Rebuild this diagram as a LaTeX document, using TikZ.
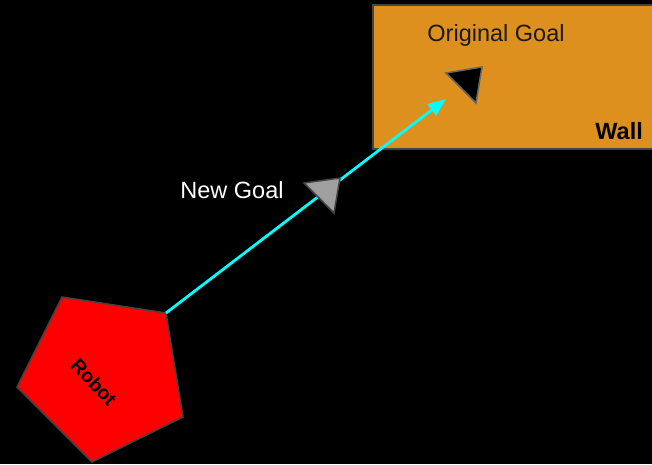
\documentclass[tikz,border=0pt]{standalone}
\usepackage{fontspec}
\setmainfont{Liberation Sans}
\usetikzlibrary{arrows.meta}
\definecolor{wallc}{HTML}{DE901E}
\definecolor{edgec}{HTML}{444444}
\definecolor{linec}{RGB}{0,255,255}
\tikzset{
  shapeedge/.style={draw=edgec, line width=1.5pt, line join=miter},
  lbl/.style={inner sep=0pt, font=\fontsize{23.5}{26}\selectfont},
  pathline/.style={draw=linec, line width=2.8pt, -{Triangle[length=18pt,width=14pt]}}
}
\begin{document}
\begin{tikzpicture}[x=1pt,y=-1pt]
\fill[black] (0,0) rectangle (652,464);
\useasboundingbox (0,0) rectangle (652,464);
% wall
\coordinate (w1) at (373,5);
\coordinate (w2) at (660,149);
\path[shapeedge, fill=wallc] (w1) rectangle (w2);
\node[lbl, text=black!90] (orig) at (496,35) {Original Goal};
\node[lbl, font=\fontsize{23.5}{26}\selectfont\bfseries, text=black, anchor=east] (wall) at (643,131) {Wall};
% original goal triangle
\coordinate (g1) at (446,73);
\coordinate (g2) at (482,67);
\coordinate (g3) at (476,103);
\path[shapeedge, fill=black, draw=gray!80!black] (g1) -- (g2) -- (g3) -- cycle;
% robot pentagon
\coordinate (p1) at (62,297);
\coordinate (p2) at (166,313);
\coordinate (p3) at (183,417);
\coordinate (p4) at (92,462);
\coordinate (p5) at (17,387);
\path[shapeedge, fill=red] (p1) -- (p2) -- (p3) -- (p4) -- (p5) -- cycle;
\node[inner sep=0pt, font=\fontsize{19.5}{22}\selectfont\bfseries, rotate=-47] (robot) at (94,382) {Robot};
% connector
\coordinate (tip) at (446,99);
\draw[pathline] (p2) -- (tip);
% new goal triangle
\coordinate (n1) at (304,183);
\coordinate (n2) at (340,178);
\coordinate (n3) at (334,213);
\path[shapeedge, fill=gray!75] (n1) -- (n2) -- (n3) -- cycle;
\node[lbl, text=white] (newgoal) at (232,190) {New Goal};
\end{tikzpicture}
\end{document}
